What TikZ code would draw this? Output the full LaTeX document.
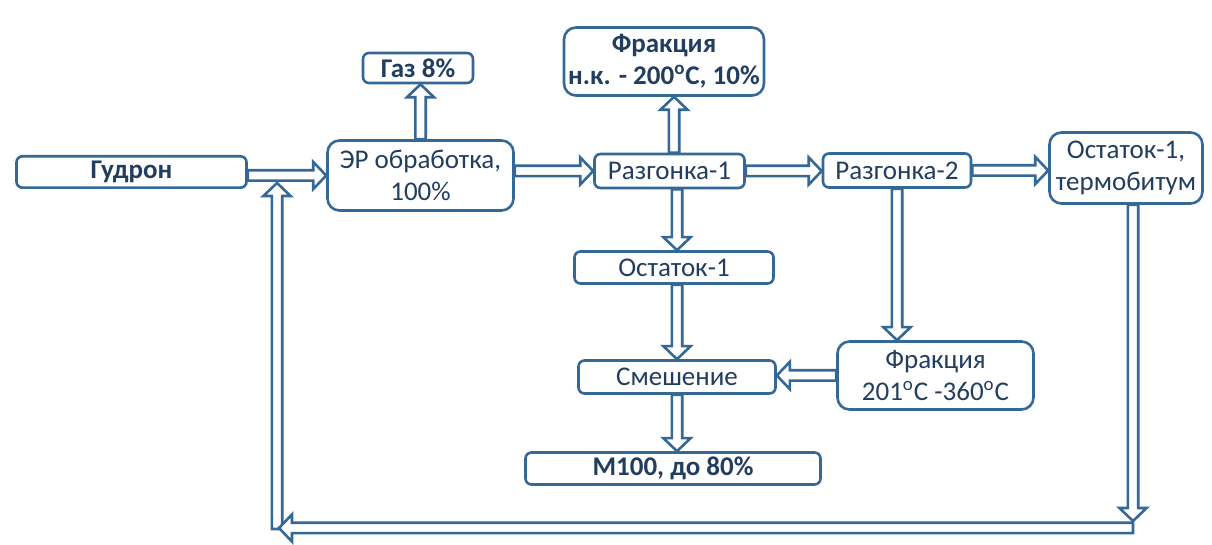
\documentclass[tikz,border=0pt]{standalone}
\usepackage{fontspec}
\setmainfont{Carlito}
\usetikzlibrary{calc}
\definecolor{edgeblue}{RGB}{52,104,150}
\definecolor{txtblue}{RGB}{34,62,94}
\tikzset{
  box/.style  ={draw=edgeblue, line width=1.3pt, rounded corners=3pt, fill=white,
                text=txtblue, align=center, inner sep=0pt,
                font=\fontsize{13.5}{16}\selectfont},
  bbox/.style ={box, font=\fontsize{13.5}{16}\selectfont\bfseries},
  tbox/.style ={box, rounded corners=6pt},
  flow/.style ={draw=edgeblue, line width=1.3pt, fill=white, line join=miter,
                to path={let \p1=(\tikztostart), \p2=(\tikztotarget),
                             \p3=($(\p2)!6.5pt!(\p1)$) in
                  ($(\p1)!2.6pt!90:(\p2)$) -- ($(\p3)!2.6pt!90:(\p2)$)
                  -- ($(\p3)!6.8pt!90:(\p2)$) -- (\p2)
                  -- ($(\p3)!6.8pt!-90:(\p2)$) -- ($(\p3)!2.6pt!-90:(\p2)$)
                  -- ($(\p1)!2.6pt!-90:(\p2)$) -- cycle}},
}
\begin{document}
\begin{tikzpicture}[x=0.5pt, y=-0.5pt]
  \useasboundingbox (0,0) rectangle (1212,545);
  % boxes
  \node[bbox, minimum width=115pt, minimum height=15.7pt] (gud) at (131.5,172) {Гудрон};
  \node[tbox, minimum width=93pt, minimum height=35pt] (er) at (420.5,175.5) {ЭР обработка,\\100\%};
  \node[bbox, minimum width=55pt, minimum height=15pt] (gas) at (418,68) {Газ 8\%};
  \node[tbox, font=\fontsize{13.5}{16}\selectfont\bfseries, minimum width=100pt, minimum height=34pt] (frtop) at (664,61.5)
    {Фракция\\н.к. - 200\textsuperscript{o}C, 10\%};
  \node[box, minimum width=75pt, minimum height=17pt] (r1) at (669.5,171) {Разгонка-1};
  \node[box, minimum width=74pt, minimum height=17pt] (r2) at (897,170.5) {Разгонка-2};
  \node[tbox, minimum width=76.5pt, minimum height=35.5pt] (ost2) at (1126,168) {Остаток-1,\\термобитум};
  \node[box, minimum width=99.5pt, minimum height=16pt] (ost1) at (674,267.5) {Остаток-1};
  \node[box, minimum width=98.5pt, minimum height=16.5pt] (mix) at (677,377) {Смешение};
  \node[tbox, minimum width=98pt, minimum height=34pt] (fr2) at (935.5,375.5)
    {Фракция\\201\textsuperscript{o}C -360\textsuperscript{o}C};
  \node[bbox, minimum width=147.5pt, minimum height=16pt] (m100) at (673,468.5) {М100, до 80\%};
  % recycle corners
  \coordinate (down) at (1133,521);
  \coordinate (back) at (1133,528);
  \coordinate (left) at (279,528);
  \coordinate (up)   at (277,529);
  \coordinate (rtop) at (277,183);
  % arrows
  \draw[flow] (er.west -| gud.east) to (er.west);
  \draw[flow] (er.north) to (er.north |- gas.south);
  \draw[flow] (r1.west -| er.east) to (r1.west);
  \draw[flow] (ost1.north |- r1.north) to (ost1.north |- frtop.south);
  \draw[flow] (r1.east) to (r1.east -| r2.west);
  \draw[flow] (r2.east) to (r2.east -| ost2.west);
  \draw[flow] (mix.north |- r1.south) to (mix.north |- ost1.north);
  \draw[flow] (r2.south) to (r2.south |- fr2.north);
  \draw[flow] (mix.north |- ost1.south) to (mix.north);
  \draw[flow] (fr2.west) to (fr2.west -| mix.east);
  \draw[flow] (mix.south) to (mix.south |- m100.north);
  \draw[flow] (up) to (rtop);
  \draw[flow] (back) to (left);
  \draw[flow] (ost2.south -| down) to (down);
\end{tikzpicture}
\end{document}
